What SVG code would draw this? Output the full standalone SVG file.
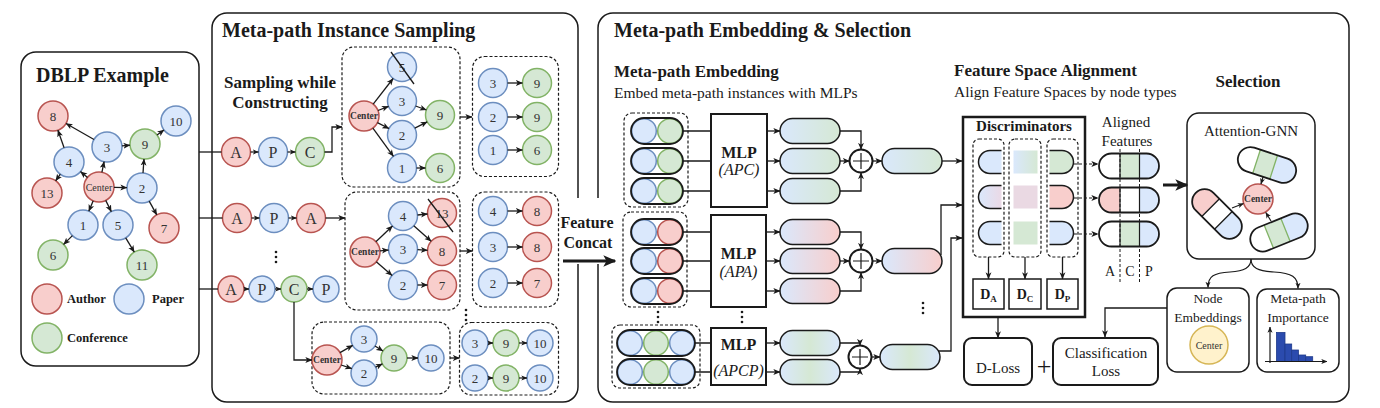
<svg xmlns="http://www.w3.org/2000/svg" width="1380" height="408" viewBox="0 0 1380 408" font-family="'Liberation Serif', 'Times New Roman', serif">
<style>
text{font-family:"Liberation Serif","Times New Roman",serif;fill:#1a1a1a}
.panel{fill:#fff;stroke:#1a1a1a;stroke-width:1.5}
.r{fill:#f8cecc;stroke:#b85450;stroke-width:1.5}
.b{fill:#dae8fc;stroke:#6c8ebf;stroke-width:1.5}
.g{fill:#d5e8d4;stroke:#82b366;stroke-width:1.5}
.y{fill:#fff2cc;stroke:#d6b656;stroke-width:1.5}
.dash{fill:none;stroke:#1a1a1a;stroke-width:1.2;stroke-dasharray:3 2}
.n{font-size:13px;text-anchor:middle;dominant-baseline:central;fill:#333}
.L{font-size:16px;text-anchor:middle;dominant-baseline:central;fill:#333}
.ct{font-size:10px;text-anchor:middle;dominant-baseline:central;fill:#333}
.ctb{font-size:9.5px;font-weight:bold;text-anchor:middle;dominant-baseline:central;fill:#333}
.h1{font-size:20px;font-weight:bold}
.h2{font-size:17px;font-weight:bold}
.sub{font-size:15.5px}
.lg{font-size:12.5px;font-weight:bold}
.e{fill:none;stroke:#1a1a1a;stroke-width:1.3;marker-end:url(#a)}
.es{fill:none;stroke:#1a1a1a;stroke-width:1.2;marker-end:url(#s)}
.ed{fill:none;stroke:#1a1a1a;stroke-width:1.2;stroke-dasharray:3 2;marker-end:url(#a)}
.ln{fill:none;stroke:#1a1a1a;stroke-width:1.3}
.thick{fill:none;stroke:#1a1a1a;stroke-width:3;marker-end:url(#big)}
.box{fill:#fff;stroke:#1a1a1a;stroke-width:2}
.rbox{fill:#fff;stroke:#1a1a1a;stroke-width:1.5}
.mlp{font-size:16px;font-weight:bold;text-anchor:middle}
.mlpi{font-size:16px;font-style:italic;text-anchor:middle}
.c{text-anchor:middle}
.t15{font-size:15px;text-anchor:middle}
.t14{font-size:13.5px;text-anchor:middle}
.dl{font-size:14px;font-weight:bold;text-anchor:middle}
.dot{fill:#1a1a1a}
.plus{fill:#fff;stroke:#1a1a1a;stroke-width:2}
.pl{fill:none;stroke:#1a1a1a;stroke-width:1.2}
</style>
<defs>
<marker id="a" viewBox="0 0 10 10" refX="9.5" refY="5" markerWidth="7" markerHeight="7" markerUnits="userSpaceOnUse" orient="auto"><path d="M0,0.8 L10,5 L0,9.2 L2.6,5 z" fill="#1a1a1a"/></marker>
<marker id="s" viewBox="0 0 10 10" refX="9.5" refY="5" markerWidth="6" markerHeight="6" markerUnits="userSpaceOnUse" orient="auto"><path d="M0,0.8 L10,5 L0,9.2 L2.6,5 z" fill="#1a1a1a"/></marker>
<marker id="big" viewBox="0 0 10 10" refX="9" refY="5" markerWidth="13" markerHeight="13" markerUnits="userSpaceOnUse" orient="auto"><path d="M0,0.5 L10,5 L0,9.5 L2.5,5 z" fill="#1a1a1a"/></marker>
<linearGradient id="gBG"><stop offset="0" stop-color="#dae8fc"/><stop offset="1" stop-color="#d5e8d4"/></linearGradient>
<linearGradient id="gBR"><stop offset="0" stop-color="#dae8fc"/><stop offset="1" stop-color="#f8cecc"/></linearGradient>
<linearGradient id="gBR2"><stop offset="0" stop-color="#dae8fc"/><stop offset="1" stop-color="#ead9e6"/></linearGradient>
<linearGradient id="gBGB"><stop offset="0" stop-color="#dae8fc"/><stop offset="0.5" stop-color="#d5e8d4"/><stop offset="1" stop-color="#dae8fc"/></linearGradient>
<g id="ipBG"><circle cx="13" cy="13" r="12.3" class="b"/><circle cx="39" cy="13" r="12.3" class="g"/><rect width="52" height="26" rx="13" fill="none" stroke="#1a1a1a" stroke-width="1.8"/></g>
<g id="ipBR"><circle cx="13" cy="13" r="12.3" class="b"/><circle cx="39" cy="13" r="12.3" class="r"/><rect width="52" height="26" rx="13" fill="none" stroke="#1a1a1a" stroke-width="1.8"/></g>
<g id="ipBGB"><circle cx="13" cy="13" r="12.3" class="b"/><circle cx="39" cy="13" r="12.3" class="g"/><circle cx="65" cy="13" r="12.3" class="b"/><rect width="78" height="26" rx="13" fill="none" stroke="#1a1a1a" stroke-width="1.8"/></g>
<rect id="opBG" width="60" height="25" rx="12.5" fill="url(#gBG)" stroke="#1a1a1a" stroke-width="1.5"/>
<rect id="opBR" width="60" height="25" rx="12.5" fill="url(#gBR)" stroke="#1a1a1a" stroke-width="1.5"/>
<rect id="opBGB" width="60" height="25" rx="12.5" fill="url(#gBGB)" stroke="#1a1a1a" stroke-width="1.5"/>
<clipPath id="apc"><rect width="60" height="25" rx="12.5"/></clipPath>
<g id="al1"><g clip-path="url(#apc)"><rect width="21" height="25" fill="#fff"/><rect x="21" width="19.5" height="25" fill="#d5e8d4"/><rect x="40.5" width="19.5" height="25" fill="#dae8fc"/></g><path d="M21,0 V25 M40.5,0 V25" stroke="#1a1a1a" stroke-width="1.2"/><rect width="60" height="25" rx="12.5" fill="none" stroke="#1a1a1a" stroke-width="1.8"/></g>
<g id="al2"><g clip-path="url(#apc)"><rect width="21" height="25" fill="#f8cecc"/><rect x="21" width="19.5" height="25" fill="#fff"/><rect x="40.5" width="19.5" height="25" fill="#dae8fc"/></g><path d="M21,0 V25 M40.5,0 V25" stroke="#1a1a1a" stroke-width="1.2"/><rect width="60" height="25" rx="12.5" fill="none" stroke="#1a1a1a" stroke-width="1.8"/></g>
<clipPath id="spc"><rect x="-30" y="-12.5" width="60" height="25" rx="12.5"/></clipPath>
</defs>

<rect width="1380" height="408" fill="#fff"/>

<g id="panels">
<rect x="21" y="52" width="178" height="314" rx="15" class="panel"/>
<rect x="212" y="13" width="366" height="389" rx="15" class="panel"/>
<rect x="598" y="13" width="751" height="389" rx="15" class="panel"/>
</g>

<g id="titles">
<text x="36" y="82" class="h1" font-size="19">DBLP Example</text>
<text x="222" y="37" class="h1">Meta-path Instance Sampling</text>
<text x="614" y="37" class="h1">Meta-path Embedding &amp; Selection</text>
<text x="280" y="88" class="h2 c">Sampling while</text>
<text x="280" y="108" class="h2 c">Constructing</text>
<text x="614" y="77" class="h2">Meta-path Embedding</text>
<text x="614" y="98" class="sub">Embed meta-path instances with MLPs</text>
<text x="954" y="76" class="h2">Feature Space Alignment</text>
<text x="954" y="97" class="sub">Align Feature Spaces by node types</text>
<text x="1248" y="87" class="h2 c">Selection</text>
</g>

<g id="feature-concat">
<rect x="560" y="198" width="56" height="66" fill="#fff"/>
<text x="587" y="228" class="c" font-size="16" font-weight="bold">Feature</text>
<text x="588" y="248" class="c" font-size="16" font-weight="bold">Concat</text>
</g>

<g id="dblp">
<g id="d8"><circle cx="53" cy="116" r="15" class="r"/><text x="53" y="116" class="n">8</text></g>
<g id="d10"><circle cx="176" cy="121" r="15" class="b"/><text x="176" y="121" class="n">10</text></g>
<g id="d3"><circle cx="107" cy="147" r="15" class="b"/><text x="107" y="147" class="n">3</text></g>
<g id="d9"><circle cx="145" cy="144" r="15" class="g"/><text x="145" y="144" class="n">9</text></g>
<g id="d4"><circle cx="69" cy="162" r="15" class="b"/><text x="69" y="162" class="n">4</text></g>
<g id="d13"><circle cx="47" cy="193" r="15" class="r"/><text x="47" y="193" class="n">13</text></g>
<g id="dC"><circle cx="99" cy="187" r="15" class="r"/><text x="99" y="187" class="ct">Center</text></g>
<g id="d2"><circle cx="142" cy="188" r="15" class="b"/><text x="142" y="188" class="n">2</text></g>
<g id="d1"><circle cx="83" cy="225" r="15" class="b"/><text x="83" y="225" class="n">1</text></g>
<g id="d5"><circle cx="118" cy="225" r="15" class="b"/><text x="118" y="225" class="n">5</text></g>
<g id="d7"><circle cx="164" cy="228" r="15" class="r"/><text x="164" y="228" class="n">7</text></g>
<g id="d6"><circle cx="53" cy="255" r="15" class="g"/><text x="53" y="255" class="n">6</text></g>
<g id="d11"><circle cx="142" cy="265" r="15" class="g"/><text x="142" y="265" class="n">11</text></g>
<g id="legend-author"><circle cx="47" cy="299" r="15" class="r"/><text x="67" y="303" class="lg">Author</text></g>
<g id="legend-paper"><circle cx="129" cy="299" r="15" class="b"/><text x="152" y="303" class="lg">Paper</text></g>
<g id="legend-conf"><circle cx="47" cy="338" r="15" class="g"/><text x="67" y="342" class="lg">Conference</text></g>
</g>

<g id="sampling">
<g id="apc-row">
<g id="s-a1"><circle cx="236" cy="152" r="14.5" class="r"/><text x="236" y="152" class="L">A</text></g>
<g id="s-p1"><circle cx="273" cy="152" r="14.5" class="b"/><text x="273" y="152" class="L">P</text></g>
<g id="s-c1"><circle cx="310" cy="152" r="14.5" class="g"/><text x="310" y="152" class="L">C</text></g>
</g>
<g id="box1">
<rect x="342" y="47" width="118" height="140" rx="12" class="dash"/>
<g><circle cx="364" cy="116" r="15" class="r"/><text x="364" y="116" class="ctb">Center</text></g>
<g><circle cx="402" cy="67" r="14.5" class="b"/><text x="402" y="67" class="n">5</text></g>
<g><circle cx="402" cy="101" r="14.5" class="b"/><text x="402" y="101" class="n">3</text></g>
<g><circle cx="402" cy="135" r="14.5" class="b"/><text x="402" y="135" class="n">2</text></g>
<g><circle cx="402" cy="168" r="14.5" class="b"/><text x="402" y="168" class="n">1</text></g>
<g><circle cx="440" cy="115" r="14.5" class="g"/><text x="440" y="115" class="n">9</text></g>
<g><circle cx="440" cy="168" r="14.5" class="g"/><text x="440" y="168" class="n">6</text></g>
<path d="M391,52 L414,84" class="ln"/>
</g>
<g id="box2">
<rect x="472.5" y="56.5" width="86" height="120" rx="12" class="dash"/>
<g><circle cx="493" cy="83" r="14.5" class="b"/><text x="493" y="83" class="n">3</text></g>
<g><circle cx="537" cy="83" r="14.5" class="g"/><text x="537" y="83" class="n">9</text></g>
<g><circle cx="493" cy="117" r="14.5" class="b"/><text x="493" y="117" class="n">2</text></g>
<g><circle cx="537" cy="117" r="14.5" class="g"/><text x="537" y="117" class="n">9</text></g>
<g><circle cx="493" cy="150" r="14.5" class="b"/><text x="493" y="150" class="n">1</text></g>
<g><circle cx="537" cy="150" r="14.5" class="g"/><text x="537" y="150" class="n">6</text></g>
</g>
<g id="apa-row">
<g><circle cx="237" cy="218" r="14.5" class="r"/><text x="237" y="218" class="L">A</text></g>
<g><circle cx="274" cy="218" r="14.5" class="b"/><text x="274" y="218" class="L">P</text></g>
<g><circle cx="311" cy="218" r="14.5" class="r"/><text x="311" y="218" class="L">A</text></g>
</g>
<g id="box3">
<rect x="345" y="192" width="115" height="118" rx="12" class="dash"/>
<g><circle cx="365" cy="252" r="15" class="r"/><text x="365" y="252" class="ctb">Center</text></g>
<g><circle cx="403" cy="216" r="14.5" class="b"/><text x="403" y="216" class="n">4</text></g>
<g><circle cx="403" cy="249" r="14.5" class="b"/><text x="403" y="249" class="n">3</text></g>
<g><circle cx="403" cy="285" r="14.5" class="b"/><text x="403" y="285" class="n">2</text></g>
<g><circle cx="442" cy="213" r="14.5" class="r"/><text x="442" y="213" class="n">13</text></g>
<g><circle cx="442" cy="251" r="14.5" class="r"/><text x="442" y="251" class="n">8</text></g>
<g><circle cx="442" cy="285" r="14.5" class="r"/><text x="442" y="285" class="n">7</text></g>
<path d="M428,199 L453,232" class="ln"/>
</g>
<g id="box4">
<rect x="472.5" y="192" width="86" height="115" rx="12" class="dash"/>
<g><circle cx="493" cy="211" r="14.5" class="b"/><text x="493" y="211" class="n">4</text></g>
<g><circle cx="537" cy="211" r="14.5" class="r"/><text x="537" y="211" class="n">8</text></g>
<g><circle cx="493" cy="247" r="14.5" class="b"/><text x="493" y="247" class="n">3</text></g>
<g><circle cx="537" cy="247" r="14.5" class="r"/><text x="537" y="247" class="n">8</text></g>
<g><circle cx="493" cy="283" r="14.5" class="b"/><text x="493" y="283" class="n">2</text></g>
<g><circle cx="537" cy="283" r="14.5" class="r"/><text x="537" y="283" class="n">7</text></g>
</g>
<g id="apcp-row">
<g><circle cx="231" cy="289" r="13" class="r"/><text x="231" y="289" class="L">A</text></g>
<g><circle cx="262" cy="289" r="13" class="b"/><text x="262" y="289" class="L">P</text></g>
<g><circle cx="294" cy="289" r="13" class="g"/><text x="294" y="289" class="L">C</text></g>
<g><circle cx="326" cy="289" r="13" class="b"/><text x="326" y="289" class="L">P</text></g>
</g>
<g id="box5">
<rect x="312" y="322" width="138" height="72" rx="12" class="dash"/>
<g><circle cx="327" cy="360" r="15" class="r"/><text x="327" y="360" class="ctb">Center</text></g>
<g><circle cx="364" cy="339" r="13" class="b"/><text x="364" y="339" class="n">3</text></g>
<g><circle cx="364" cy="373" r="13" class="b"/><text x="364" y="373" class="n">2</text></g>
<g><circle cx="394" cy="358" r="13" class="g"/><text x="394" y="358" class="n">9</text></g>
<g><circle cx="431" cy="358" r="13" class="b"/><text x="431" y="358" class="n">10</text></g>
</g>
<g id="box6">
<rect x="459.5" y="322.5" width="99" height="72.5" rx="12" class="dash"/>
<g><circle cx="475" cy="343" r="13" class="b"/><text x="475" y="343" class="n">3</text></g>
<g><circle cx="506" cy="343" r="13" class="g"/><text x="506" y="343" class="n">9</text></g>
<g><circle cx="540" cy="343" r="13" class="b"/><text x="540" y="343" class="n">10</text></g>
<g><circle cx="475" cy="378" r="13" class="b"/><text x="475" y="378" class="n">2</text></g>
<g><circle cx="506" cy="378" r="13" class="g"/><text x="506" y="378" class="n">9</text></g>
<g><circle cx="540" cy="378" r="13" class="b"/><text x="540" y="378" class="n">10</text></g>
</g>
<g id="sampling-dots">
<circle cx="276" cy="252" r="1.3" class="dot"/><circle cx="276" cy="257" r="1.3" class="dot"/><circle cx="276" cy="262" r="1.3" class="dot"/>
<circle cx="466" cy="310" r="1.3" class="dot"/><circle cx="466" cy="315" r="1.3" class="dot"/><circle cx="466" cy="320" r="1.3" class="dot"/>
</g>
</g>

<g id="embedding">
<g id="in-apc">
<rect x="624" y="113" width="64" height="94" rx="8" class="dash"/>
<use href="#ipBG" x="631" y="118"/><use href="#ipBG" x="631" y="148"/><use href="#ipBG" x="631" y="178"/>
</g>
<g id="in-apa">
<rect x="623" y="212" width="64" height="95" rx="8" class="dash"/>
<use href="#ipBR" x="631" y="219"/><use href="#ipBR" x="631" y="248"/><use href="#ipBR" x="631" y="278"/>
</g>
<g id="in-apcp">
<rect x="612" y="325" width="88" height="63" rx="8" class="dash"/>
<use href="#ipBGB" x="617" y="330"/><use href="#ipBGB" x="617" y="359"/>
</g>
<g id="mlp-apc"><rect x="711" y="114" width="56" height="93" class="box"/><text x="739" y="158" class="mlp">MLP</text><text x="739" y="175" class="mlpi">(APC)</text></g>
<g id="mlp-apa"><rect x="711" y="215" width="55" height="92" class="box"/><text x="738.5" y="259" class="mlp">MLP</text><text x="738.5" y="277" class="mlpi">(APA)</text></g>
<g id="mlp-apcp"><rect x="711" y="328" width="55" height="57" class="box"/><text x="738.5" y="350" class="mlp">MLP</text><text x="738.5" y="376" class="mlpi">(APCP)</text></g>
<g id="out-apc"><use href="#opBG" x="780" y="118.5"/><use href="#opBG" x="780" y="148.5"/><use href="#opBG" x="780" y="178.5"/></g>
<g id="out-apa"><use href="#opBR" x="780" y="219.5"/><use href="#opBR" x="780" y="248.5"/><use href="#opBR" x="780" y="278.5"/></g>
<g id="out-apcp"><use href="#opBGB" x="780" y="330.5"/><use href="#opBGB" x="780" y="359.5"/></g>
<g id="sum1"><circle cx="861" cy="161" r="11.5" class="plus"/><path d="M853,161 H869 M861,153 V169" class="pl"/></g>
<g id="sum2"><circle cx="861" cy="261" r="11.5" class="plus"/><path d="M853,261 H869 M861,253 V269" class="pl"/></g>
<g id="sum3"><circle cx="860" cy="357" r="11.5" class="plus"/><path d="M852,357 H868 M860,349 V365" class="pl"/></g>
<g id="agg1"><use href="#opBG" x="882" y="148.5"/></g>
<g id="agg2"><use href="#opBR" x="882" y="248.5"/></g>
<g id="agg3"><use href="#opBGB" x="880" y="344.5"/></g>
<g id="emb-dots">
<circle cx="658" cy="312" r="1.3" class="dot"/><circle cx="658" cy="317" r="1.3" class="dot"/><circle cx="658" cy="322" r="1.3" class="dot"/>
<circle cx="742" cy="312" r="1.3" class="dot"/><circle cx="742" cy="317" r="1.3" class="dot"/><circle cx="742" cy="322" r="1.3" class="dot"/>
<circle cx="923" cy="303" r="1.3" class="dot"/><circle cx="923" cy="308" r="1.3" class="dot"/><circle cx="923" cy="313" r="1.3" class="dot"/>
</g>
</g>

<g id="discriminators">
<rect x="963" y="117" width="122" height="200" fill="#fff" stroke="#1a1a1a" stroke-width="2.5"/>
<text x="1024" y="131" class="c" font-size="15" font-weight="bold">Discriminators</text>
<rect x="973" y="139" width="31" height="118" rx="6" class="dash"/>
<rect x="1009" y="139" width="32" height="118" rx="6" class="dash"/>
<rect x="1047" y="139" width="31" height="118" rx="6" class="dash"/>
<path d="M1001.5,150.5 H990 A11.5,11.5 0 0 0 990,173.5 H1001.5" fill="#dae8fc" stroke="#1a1a1a" stroke-width="1.5"/>
<rect x="1013.5" y="150.5" width="24" height="23" fill="url(#gBG)"/>
<path d="M1049.5,150.5 H1062 A11.5,11.5 0 0 1 1062,173.5 H1049.5" fill="#d5e8d4" stroke="#1a1a1a" stroke-width="1.5"/>
<path d="M1001.5,185.5 H990 A11.5,11.5 0 0 0 990,208.5 H1001.5" fill="url(#gBR2)" stroke="#1a1a1a" stroke-width="1.5"/>
<rect x="1013.5" y="185.5" width="24" height="23" fill="#ead9e3"/>
<path d="M1049.5,185.5 H1062 A11.5,11.5 0 0 1 1062,208.5 H1049.5" fill="#f8cecc" stroke="#1a1a1a" stroke-width="1.5"/>
<path d="M1001.5,221.5 H990 A11.5,11.5 0 0 0 990,244.5 H1001.5" fill="#dae8fc" stroke="#1a1a1a" stroke-width="1.5"/>
<rect x="1013.5" y="221.5" width="24" height="23" fill="#d5e8d4"/>
<path d="M1049.5,221.5 H1062 A11.5,11.5 0 0 1 1062,244.5 H1049.5" fill="#dae8fc" stroke="#1a1a1a" stroke-width="1.5"/>
<g id="DA"><rect x="973" y="279" width="31" height="30" class="rbox"/><text x="988.5" y="299" class="dl">D<tspan font-size="9" dy="3">A</tspan></text></g>
<g id="DC"><rect x="1009" y="279" width="32" height="30" class="rbox"/><text x="1025" y="299" class="dl">D<tspan font-size="9" dy="3">C</tspan></text></g>
<g id="DP"><rect x="1047" y="279" width="31" height="30" class="rbox"/><text x="1062.5" y="299" class="dl">D<tspan font-size="9" dy="3">P</tspan></text></g>
</g>

<g id="aligned">
<text x="1126" y="127" class="t15">Aligned</text>
<text x="1127" y="146" class="t15">Features</text>
<use href="#al1" x="1099" y="153.5"/>
<use href="#al2" x="1099" y="187.5"/>
<use href="#al1" x="1099" y="221.5"/>
<path d="M1120,149 V282 M1139.5,149 V282" fill="none" stroke="#1a1a1a" stroke-width="1" stroke-dasharray="3 2"/>
<text x="1110" y="276" font-size="14" class="c">A</text>
<text x="1130" y="276" font-size="14" class="c">C</text>
<text x="1149" y="276" font-size="14" class="c">P</text>
</g>

<g id="d-loss"><rect x="964" y="338" width="68" height="47" rx="8" class="box"/><text x="998" y="373" class="t15">D-Loss</text></g>
<text x="1044" y="375" class="c" font-size="26" fill="#333">+</text>
<g id="cls-loss"><rect x="1053" y="338" width="105" height="47" rx="8" class="box"/><text x="1106" y="358" class="t15">Classification</text><text x="1106" y="376" class="t15">Loss</text></g>

<g id="attention-gnn">
<rect x="1187" y="113" width="128" height="146" rx="12" class="rbox"/>
<text x="1251" y="136" class="t15">Attention-GNN</text>
<g transform="translate(1267,165) rotate(18)"><g clip-path="url(#spc)"><rect x="-30" y="-12.5" width="19" height="25" fill="#fff"/><rect x="-11" y="-12.5" width="18" height="25" fill="#d5e8d4"/><rect x="7" y="-12.5" width="23" height="25" fill="#dae8fc"/></g><path d="M-11,-12.5 V12.5 M7,-12.5 V12.5" stroke="#82b366" stroke-width="1.3"/><rect x="-30" y="-12.5" width="60" height="25" rx="12.5" fill="none" stroke="#1a1a1a" stroke-width="1.8"/></g>
<g transform="translate(1217,214) rotate(45)"><g clip-path="url(#spc)"><rect x="-30" y="-12.5" width="21" height="25" fill="#f8cecc"/><rect x="-9" y="-12.5" width="18" height="25" fill="#fff"/><rect x="9" y="-12.5" width="21" height="25" fill="#dae8fc"/></g><path d="M-9,-12.5 V12.5 M9,-12.5 V12.5" stroke="#1a1a1a" stroke-width="1.3"/><rect x="-30" y="-12.5" width="60" height="25" rx="12.5" fill="none" stroke="#1a1a1a" stroke-width="1.8"/></g>
<g transform="translate(1279,232.5) rotate(-22)"><g clip-path="url(#spc)"><rect x="-30" y="-12.5" width="19" height="25" fill="#fff"/><rect x="-11" y="-12.5" width="18" height="25" fill="#d5e8d4"/><rect x="7" y="-12.5" width="23" height="25" fill="#dae8fc"/></g><path d="M-11,-12.5 V12.5 M7,-12.5 V12.5" stroke="#82b366" stroke-width="1.3"/><rect x="-30" y="-12.5" width="60" height="25" rx="12.5" fill="none" stroke="#1a1a1a" stroke-width="1.8"/></g>
<g id="att-center"><circle cx="1258" cy="199" r="15" class="r"/><text x="1258" y="199" class="ctb" font-size="8.5">Center</text></g>
</g>
<g id="node-emb">
<rect x="1167" y="288" width="82" height="84" rx="10" class="rbox"/>
<text x="1208" y="303" class="t14">Node</text>
<text x="1208" y="322" class="t14">Embeddings</text>
<circle cx="1209" cy="345" r="19" class="y"/>
<text x="1209" y="345" class="ct" font-size="11">Center</text>
</g>
<g id="mp-importance">
<rect x="1257" y="289" width="82" height="83" rx="10" class="rbox"/>
<text x="1298" y="303" class="t14">Meta-path</text>
<text x="1298" y="322" class="t14">Importance</text>
<g fill="#2b4bae" stroke="#1e3a8a" stroke-width="0.8">
<rect x="1276.5" y="332.5" width="8.5" height="29"/>
<rect x="1285" y="344" width="6.7" height="17.5"/>
<rect x="1291.7" y="350" width="6.7" height="11.5"/>
<rect x="1298.4" y="355" width="7.3" height="6.5"/>
<rect x="1305.7" y="356.7" width="7" height="4.8"/>
</g>
</g>

<g id="connectors">
<path class="e" d="M94,139.5 L66,123.5"/>
<path class="e" d="M64.1,147.8 L57.9,130.2"/>
<path class="e" d="M122,145.8 L130,145.2"/>
<path class="e" d="M157,135.1 L164,129.9"/>
<path class="e" d="M87.5,177.4 L80.5,171.6"/>
<path class="e" d="M101.9,172.3 L104.1,161.7"/>
<path class="e" d="M114,187.3 L127,187.7"/>
<path class="e" d="M60.3,174.2 L55.7,180.8"/>
<path class="e" d="M143,173 L144,159"/>
<path class="e" d="M149.2,201.1 L156.8,214.9"/>
<path class="e" d="M93.2,200.8 L88.8,211.2"/>
<path class="e" d="M105.7,200.4 L111.3,211.6"/>
<path class="e" d="M72.4,235.6 L63.6,244.4"/>
<path class="e" d="M125.7,237.9 L134.3,252.1"/>
<path class="ln" d="M199,152 H221.5"/>
<path class="ln" d="M199,218 H222.5"/>
<path class="ln" d="M199,289 H218"/>
<path class="es" d="M250.5,152 H258.5"/>
<path class="es" d="M287.5,152 H295.5"/>
<path class="e" d="M324.5,152 H332 V127 H342"/>
<path class="e" d="M373.2,104.1 L393.1,78.5"/>
<path class="e" d="M378,110.5 L388.5,106.3"/>
<path class="e" d="M377.4,122.7 L389,128.5"/>
<path class="e" d="M372.9,128.1 L393.4,156.3"/>
<path class="e" d="M415.6,106 L426.4,110"/>
<path class="e" d="M414.8,128.2 L427.2,121.8"/>
<path class="e" d="M416.5,168 H425.5"/>
<path class="e" d="M460,117 H472"/>
<path class="e" d="M507.5,83 H522.5"/>
<path class="e" d="M507.5,117 H522.5"/>
<path class="e" d="M507.5,150 H522.5"/>
<path class="es" d="M251.5,218 H259.5"/>
<path class="es" d="M288.5,218 H296.5"/>
<path class="e" d="M325.5,218 H345"/>
<path class="e" d="M375.9,241.7 L392.5,226"/>
<path class="e" d="M380,250.8 L388.5,250.1"/>
<path class="e" d="M376.3,261.8 L392.1,275.5"/>
<path class="e" d="M417.5,215 L427.5,214"/>
<path class="e" d="M413.8,225.7 L431.2,241.3"/>
<path class="e" d="M417.5,249.7 L427.5,250.3"/>
<path class="e" d="M417.5,285 H427.5"/>
<path class="e" d="M460,251 H472.5"/>
<path class="e" d="M507.5,211 H522.5"/>
<path class="e" d="M507.5,247 H522.5"/>
<path class="e" d="M507.5,283 H522.5"/>
<path class="es" d="M244,289 H249"/>
<path class="es" d="M275,289 H281"/>
<path class="es" d="M307,289 H313"/>
<path class="e" d="M294,302 V360 H312"/>
<path class="e" d="M340,352.6 L352.7,345.4"/>
<path class="e" d="M341.2,365 L351.7,368.7"/>
<path class="e" d="M375,346 L383,351"/>
<path class="e" d="M375.6,367.2 L382.4,363.8"/>
<path class="e" d="M407,358 H418"/>
<path class="e" d="M450,358 H459.5"/>
<path class="es" d="M488,343 H493"/>
<path class="es" d="M519,343 H527"/>
<path class="es" d="M488,378 H493"/>
<path class="es" d="M519,378 H527"/>
<path class="thick" d="M563,261 H615"/>
<path class="ln" d="M683,131 H711 M683,161 H711 M683,191 H711"/>
<path class="e" d="M767,131 H780"/><path class="e" d="M767,161 H780"/><path class="e" d="M767,191 H780"/>
<path class="ln" d="M683,232 H711 M683,261 H711 M683,291 H711"/>
<path class="e" d="M766,232 H780"/><path class="e" d="M766,261 H780"/><path class="e" d="M766,291 H780"/>
<path class="ln" d="M695,343 H711 M695,372 H711"/>
<path class="e" d="M766,343 H780"/><path class="e" d="M766,372 H780"/>
<path class="e" d="M840,131 H861 V149.5"/>
<path class="e" d="M840,161 H849.5"/>
<path class="e" d="M840,191 H861 V172.5"/>
<path class="e" d="M872.5,161 H882"/>
<path class="e" d="M840,232 H861 V249.5"/>
<path class="e" d="M840,261 H849.5"/>
<path class="e" d="M840,291 H861 V272.5"/>
<path class="e" d="M872.5,261 H882"/>
<path class="e" d="M840,343 H860 V345.5"/>
<path class="e" d="M840,372 H860 V368.5"/>
<path class="e" d="M871.5,357 H880"/>
<path class="e" d="M942,161 H962"/>
<path class="e" d="M941,255 V205 H962"/>
<path class="e" d="M938,351 H951 V238 H962"/>
<path class="e" d="M988.5,257 V279"/>
<path class="e" d="M1025,257 V279"/>
<path class="e" d="M1062.5,257 V279"/>
<path class="ed" d="M1074,164 H1098"/>
<path class="ed" d="M1074,198 H1098"/>
<path class="ed" d="M1074,234 H1098"/>
<path class="e" d="M998,317 V338"/>
<path class="thick" d="M1163,185 H1187"/>
<path class="e" d="M1167,308 H1105 V337"/>
<path class="es" d="M1263,177 L1261,184"/>
<path class="es" d="M1232,208 L1243.5,203.5"/>
<path class="es" d="M1271,221 L1265.8,212.5"/>
<path class="es" d="M1251,259 C1251,268 1244,271 1230,272 C1214,273 1208,276 1208,287.5"/>
<path class="es" d="M1251,259 C1251,268 1258,271 1274,272 C1292,273 1298,277 1298,288.5"/>
<path class="es" d="M1270,363 V327"/>
<path class="es" d="M1265,361.5 H1327"/>
</g>
</svg>
